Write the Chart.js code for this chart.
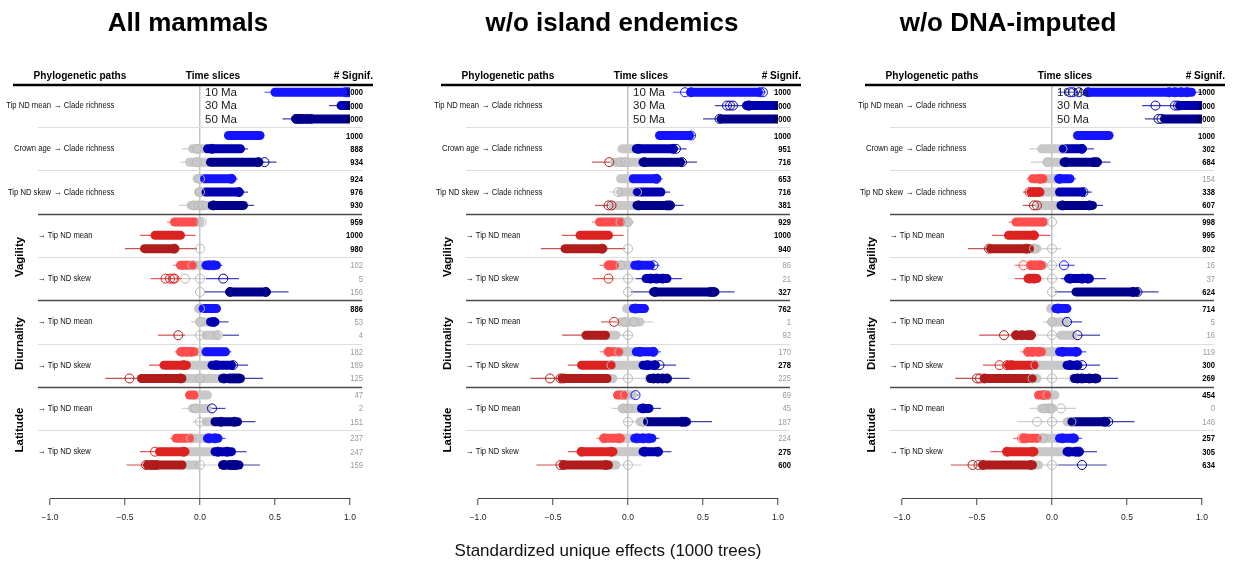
<!DOCTYPE html>
<html><head><meta charset="utf-8">
<script src="https://cdn.jsdelivr.net/npm/chart.js@4.4.1/dist/chart.umd.min.js"></script>
<style>
body{margin:0;width:1236px;height:565px;background:#fff;position:relative;overflow:hidden;font-family:"Liberation Sans",Arial,Helvetica,sans-serif}
.title{position:absolute;top:7px;line-height:30px;font-weight:bold;font-size:26px;transform:translateX(-50%);white-space:nowrap;color:#000}
canvas{position:absolute;top:0}
#xlab{position:absolute;top:541px;left:608px;line-height:20px;transform:translateX(-50%);font-size:17px;white-space:nowrap;color:#111}
</style></head><body>
<canvas id="c0" width="380" height="565" style="left:0px"></canvas>
<canvas id="c1" width="390" height="565" style="left:420px"></canvas>
<canvas id="c2" width="396" height="565" style="left:840px"></canvas>
<div id="xlab"></div>
<script>
// ---------------- data ----------------
const panelTitles = ['All mammals', 'w/o island endemics', 'w/o DNA-imputed'];
const xAxisTitle = 'Standardized unique effects (1000 trees)';
const headerLabels = ['Phylogenetic paths', 'Time slices', '# Signif.'];
const sliceLabels = ['10 Ma', '30 Ma', '50 Ma'];
const richnessPredictors = ['Tip ND mean', 'Crown age', 'Tip ND skew'];
const richnessTarget = '\u2192 Clade richness';
const traitSections = ['Vagility', 'Diurnality', 'Latitude'];
const traitTargets = ['\u2192 Tip ND mean', '\u2192 Tip ND skew'];
const xTicks = [-1, -0.5, 0, 0.5, 1];

// per row (27 rows = 9 paths x 3 time slices): whisker range, thick-bar segments,
// significance zone limits [neg limit, pos limit], outlying circles, # significant trees
const allWhisker = [[0.43,1.02],[0.86,1.0],[0.55,1.0],[0.17,0.43],[-0.12,0.32],[-0.13,0.51],[-0.03,0.25],[-0.02,0.32],[-0.14,0.36],
  [-0.22,0.01],[-0.4,-0.03],[-0.5,-0.02],[-0.18,0.15],[-0.33,0.26],[0.03,0.59],[-0.02,0.13],[-0.06,0.19],[-0.28,0.26],
  [-0.17,0.21],[-0.34,0.32],[-0.63,0.42],[-0.08,0.06],[-0.12,0.17],[-0.05,0.37],[-0.2,0.17],[-0.4,0.31],[-0.49,0.4]];
const allBox = [[0.5,1.0],[0.94,1.0],[0.64,1.0],[0.19,0.4],[-0.05,0.27],[-0.07,0.39],[-0.02,0.21],[-0.01,0.26],[-0.06,0.29],
  [-0.17,0.0],[-0.3,-0.13],[-0.37,-0.17],[-0.13,0.11],[],[0.2,0.44],[-0.01,0.11],[0.0,0.1],[0.04,0.11],
  [-0.13,0.17],[-0.24,0.21],[-0.39,0.27],[-0.07,0.05],[-0.05,0.05],[0.04,0.25],[-0.16,0.12],[-0.27,0.21],[-0.35,-0.03,0.15,0.26]];
const allZone = [[null,0],[null,0],[null,0],[null,0],[null,0.05],[null,0.07],[null,0.03],[null,0.04],[null,0.08],
  [-0.04,null],[0,null],[-0.02,null],[-0.05,0.04],[-0.12,0.04],[null,0.02],[null,0.02],[null,0.07],[-0.1,0.15],
  [-0.04,0.04],[-0.09,0.08],[-0.12,0.15],[-0.04,null],[null,0.07],[null,0.1],[-0.07,0.05],[-0.1,0.1],[-0.12,0.13]];
const allPoints = [[0.97,0.99],[],[0.64,0.66,0.68,0.71,0.74],[],[-0.02,0.08],[-0.02,0.39,0.43],[0.0,0.21],[0.0,0.26],[-0.04,-0.01,0.02,0.09],
  [0.01],[],[-0.17,0.0],[-0.05,0.06,0.09],[-0.23,-0.2,-0.18,-0.17,-0.1,0.0,0.155],[0.0,0.2,0.44],[0.0],[0.0,0.09],[-0.145,0.0,0.12],
  [-0.12,-0.09,-0.06],[-0.11,0.11,0.22],[-0.47,-0.13,0.0,0.16,0.2,0.22,0.24,0.26],[],[-0.03,0.08],[0.0,0.14,0.23],[-0.06,0.06,0.1],[-0.3,-0.11,0.12,0.18],[-0.36,-0.33,-0.31,-0.29,0.0,0.16,0.2,0.22,0.24]];
const allSignif = [1000,1000,1000,1000,888,934,924,976,930,959,1000,980,102,5,156,886,53,4,182,189,125,47,2,151,237,247,159];

const islWhisker = [[0.3,0.92],[0.58,1.0],[0.5,1.0],[0.2,0.45],[-0.06,0.39],[-0.24,0.46],[-0.06,0.23],[-0.12,0.28],[-0.22,0.37],
  [-0.24,0.04],[-0.44,-0.03],[-0.58,-0.02],[-0.19,0.21],[-0.235,0.36],[0.01,0.71],[-0.02,0.12],[-0.18,0.17],[-0.44,0.03],
  [-0.19,0.22],[-0.4,0.32],[-0.65,0.41],[-0.09,0.07],[-0.11,0.22],[-0.03,0.56],[-0.21,0.21],[-0.4,0.29],[-0.61,0.09]];
const islBox = [[0.42,0.87],[0.79,1.0],[0.62,1.0],[0.21,0.41],[-0.04,0.3],[-0.09,0.35],[-0.05,0.19],[-0.05,0.22],[-0.1,0.28],
  [-0.19,0.0],[-0.32,-0.13],[-0.42,-0.17],[-0.13,0.15],[0.12,0.26],[0.17,0.58],[-0.01,0.11],[-0.05,0.08],[-0.28,-0.08],
  [-0.13,0.17],[-0.31,0.18],[-0.44,-0.1,0.14,0.26],[-0.07,0.03],[-0.04,0.14],[0.08,0.39],[-0.16,0.16],[-0.31,0.2],[-0.43,-0.08]];
const islZone = [[null,0],[null,0],[null,0],[null,0],[null,0.055],[-0.11,0.1],[null,0.035],[null,0.06],[-0.1,0.06],
  [-0.05,null],[0,null],[-0.02,null],[-0.09,0.045],[-0.1,0.05],[null,0.02],[null,0.035],[-0.08,null],[-0.15,null],
  [-0.06,0.055],[-0.11,0.1],[-0.14,0.15],[-0.03,0.04],[null,0.09],[null,0.13],[-0.05,0.045],[-0.1,0.1],[-0.13,null]];
const islPoints = [[0.38,0.42,0.88,0.9],[0.66,0.68,0.7,0.8,0.81],[0.61],[0.42],[0.07,0.3,0.32],[-0.125,-0.05,-0.02,0.11,0.36],[0.19],[-0.065,0.06],[-0.13,-0.11,0.07,0.26,0.28],
  [-0.05,0.0],[],[-0.17,0.0],[-0.13,-0.11,-0.05,0.07,0.17],[-0.13,0.0,0.15,0.19,0.23],[0.0,0.18,0.55,0.57],[0.05],[-0.093,-0.02,0.04],[0.0],
  [-0.13,-0.06,0.08,0.17],[-0.11,0.13,0.18,0.21],[-0.52,-0.45,-0.43,0.0,0.17,0.2,0.23,0.26],[-0.02,0.05],[-0.03,0.0,0.1],[0.0,0.1,0.36,0.38],[-0.16,-0.06,0.06,0.1,0.14],[-0.31,-0.11,0.11,0.2],[-0.45,-0.43,-0.15,0.0]];
const islSignif = [1000,1000,1000,1000,951,716,653,716,381,929,1000,940,86,21,327,762,1,92,170,278,225,69,45,187,224,275,600];

const dnaWhisker = [[0.04,1.0],[0.6,1.0],[0.62,1.0],[0.16,0.41],[-0.15,0.28],[-0.14,0.39],[-0.17,0.16],[-0.195,0.265],[-0.195,0.34],
  [-0.29,-0.02],[-0.4,-0.01],[-0.56,0.06],[-0.25,0.15],[-0.25,0.36],[0.01,0.71],[-0.02,0.12],[-0.06,0.2],[-0.485,0.32],
  [-0.21,0.23],[-0.46,0.32],[-0.645,0.44],[-0.11,0.03],[-0.15,0.16],[-0.235,0.55],[-0.26,0.2],[-0.41,0.3],[-0.675,0.365]];
const dnaBox = [[0.24,0.93],[0.85,1.0],[0.75,1.0],[0.17,0.38],[-0.07,0.2],[-0.03,0.3],[-0.13,0.12],[-0.14,0.2],[-0.08,0.27],
  [-0.24,-0.05],[-0.29,-0.12],[-0.41,-0.1],[-0.14,-0.06],[-0.16,-0.1,0.11,0.25],[0.16,0.56],[-0.01,0.1],[0.0,0.09],[-0.24,-0.14,0.06,0.14],
  [-0.16,0.17],[-0.29,0.17],[-0.45,-0.1,0.14,0.3],[-0.09,0.02],[-0.07,0.0],[0.1,0.36],[-0.19,0.15],[-0.3,0.18],[-0.46,-0.09]];
const dnaZone = [[null,0],[null,0],[null,0],[null,0],[null,0.075],[null,0.08],[-0.06,0.045],[-0.08,0.05],[-0.09,0.06],
  [-0.06,null],[0,null],[-0.15,null],[-0.07,0.06],[-0.1,0.06],[null,0.02],[null,0.025],[null,0.09],[-0.12,0.15],
  [-0.07,0.05],[-0.12,0.1],[-0.13,0.15],[-0.035,null],[null,null],[null,0.13],[-0.1,0.05],[-0.12,0.1],[-0.13,0.04]];
const dnaPoints = [[0.12,0.14,0.18,0.24,0.78,0.82,0.86,0.9],[0.69,0.82,0.84],[0.71,0.73],[],[0.07,0.2],[-0.03,0.09,0.28,0.3],[-0.08,0.05],[-0.15,-0.12,-0.09,0.21],[-0.12,-0.1,0.07,0.25],
  [0.0],[-0.12],[-0.42,-0.17,-0.12,0.0],[-0.19,-0.14,-0.11,-0.08,0.0,0.08],[-0.15,-0.12,0.0,0.12,0.2,0.24],[0.0,0.54,0.57],[0.04],[0.0,0.1],[-0.32,-0.24,-0.2,-0.16,-0.14,0.0,0.17],
  [-0.16,-0.13,-0.09,0.07,0.16],[-0.35,-0.3,-0.27,-0.11,0.12,0.17,0.2],[-0.5,-0.48,-0.45,-0.13,0.0,0.17,0.2,0.25,0.29],[-0.05,-0.03],[-0.05,-0.02,0.0,0.06],[-0.1,0.0,0.13,0.35,0.375],[-0.2,-0.18,-0.06,0.07,0.14],[-0.3,-0.13,0.11,0.16,0.18],[-0.53,-0.49,-0.46,-0.14,0.0,0.2]];
const dnaSignif = [1000,1000,1000,1000,302,684,154,338,607,998,995,802,16,37,624,714,5,16,119,300,269,454,0,146,257,305,634];

// ---------------- styling ----------------
const FAM = '"Liberation Sans", Arial, Helvetica, sans-serif';
const RED = ['#ff4d4d', '#dc2121', '#b01c1c'];
const BLUE = ['#1414ff', '#0000b0', '#00008a'];
const GREY = '#c8c8c8';
const GROUP_STEP = 3.25;
function rowPos(i) { return Math.floor(i / 3) * GROUP_STEP + (i % 3); }
function rgba(hex, a) {
  const n = parseInt(hex.slice(1), 16);
  return 'rgba(' + ((n >> 16) & 255) + ',' + ((n >> 8) & 255) + ',' + (n & 255) + ',' + a + ')';
}
function split(a, b, nb, pb) {
  const out = [];
  if (a < nb) out.push([a, Math.min(b, nb), 0]);
  const ga = Math.max(a, nb), gb = Math.min(b, pb);
  if (gb > ga) out.push([ga, gb, 1]);
  if (b > pb) out.push([Math.max(a, pb), b, 2]);
  return out;
}
function seg(a, b, y, color, width, cap, order) {
  return { data: [{x: a, y: y}, {x: b, y: y}], showLine: true, borderColor: color, borderWidth: width,
    borderCapStyle: cap, pointRadius: 0, pointHoverRadius: 0, fill: false, tension: 0, order: order };
}
function buildDatasets(wh, box, zone, pts) {
  const ds = [];
  for (let i = 0; i < wh.length; i++) {
    const t = i % 3, y = rowPos(i);
    const nb = zone[i][0] === null ? -Infinity : zone[i][0];
    const pb = zone[i][1] === null ? Infinity : zone[i][1];
    const cols = [RED[t], GREY, BLUE[t]];
    split(wh[i][0], wh[i][1], nb, pb).forEach(p => ds.push(seg(p[0], p[1], y, rgba(cols[p[2]] === GREY ? '#bdbdbd' : cols[p[2]], 0.75), 1.2, 'butt', 5)));
    for (let j = 0; j + 1 < box[i].length; j += 2) {
      split(box[i][j], box[i][j + 1], nb, pb).forEach(p => ds.push(seg(p[0], p[1], y, cols[p[2]], 9, 'round', p[2] === 1 ? 4 : 3)));
    }
    if (pts[i].length) {
      const zc = x => x < nb ? cols[0] : (x > pb ? cols[2] : '#b8b8b8');
      ds.push({ data: pts[i].map(x => ({x: x, y: y})), showLine: false, pointRadius: 4.5, pointHoverRadius: 4.5,
        pointBorderWidth: 1, pointBorderColor: pts[i].map(zc), pointBackgroundColor: 'rgba(0,0,0,0)', order: 1 });
    }
  }
  return ds;
}
function txt(ctx, s, x, y, font, color, align, sx) {
  ctx.save(); ctx.translate(x, y); ctx.scale(sx || 1, 1);
  ctx.font = font; ctx.fillStyle = color; ctx.textAlign = align; ctx.textBaseline = 'middle';
  ctx.fillText(s, 0, 0); ctx.restore();
}
const decor = {
  id: 'decor',
  beforeDatasetsDraw(chart) {
    const ctx = chart.ctx, xs = chart.scales.x, ys = chart.scales.y, x0 = xs.getPixelForValue(0);
    ctx.save();
    for (let g = 0; g < 8; g++) {
      const yy = Math.round(ys.getPixelForValue(g * GROUP_STEP + 2.625)) + 0.5;
      const major = (g === 2 || g === 4 || g === 6);
      ctx.strokeStyle = major ? '#4a4a4a' : '#dddddd'; ctx.lineWidth = major ? 1.3 : 1;
      ctx.beginPath(); ctx.moveTo(x0 - 162, yy); ctx.lineTo(x0 + 162, yy); ctx.stroke();
    }
    ctx.restore();
  },
  afterDraw(chart, args, opts) {
    const ctx = chart.ctx, xs = chart.scales.x, ys = chart.scales.y, x0 = xs.getPixelForValue(0);
    const sig = opts.signif;
    // header
    txt(ctx, headerLabels[0], x0 - 120, 76, 'bold 11px ' + FAM, '#000', 'center', 0.92);
    txt(ctx, headerLabels[1], x0 + 13, 76, 'bold 11px ' + FAM, '#000', 'center', 0.92);
    txt(ctx, headerLabels[2], x0 + 173, 76, 'bold 11px ' + FAM, '#000', 'right', 0.92);
    ctx.save(); ctx.strokeStyle = '#000'; ctx.lineWidth = 2.5;
    ctx.beginPath(); ctx.moveTo(x0 - 187, 85); ctx.lineTo(x0 + 173, 85); ctx.stroke(); ctx.restore();
    // time slice legend
    sliceLabels.forEach((s, t) => txt(ctx, s, x0 + 5, ys.getPixelForValue(rowPos(t)) + 0.5, '11.5px ' + FAM, '#1a1a1a', 'left', 1));
    // path labels
    const small = '9px ' + FAM;
    richnessPredictors.forEach((p, g) => {
      const yy = ys.getPixelForValue(rowPos(g * 3 + 1));
      txt(ctx, p, x0 - 149, yy, small, '#111', 'right', 0.85);
      txt(ctx, richnessTarget, x0 - 146, yy, small, '#111', 'left', 0.85);
    });
    traitSections.forEach((s, k) => {
      const gA = 3 + k * 2;
      for (let m = 0; m < 2; m++) {
        const yy = ys.getPixelForValue(rowPos((gA + m) * 3 + 1));
        txt(ctx, traitTargets[m], x0 - 162, yy, small, '#111', 'left', 0.85);
      }
      const yc = ys.getPixelForValue((rowPos(gA * 3) + rowPos((gA + 1) * 3 + 2)) / 2);
      ctx.save(); ctx.translate(x0 - 180, yc); ctx.rotate(-Math.PI / 2);
      ctx.font = 'bold 11.5px ' + FAM; ctx.fillStyle = '#000'; ctx.textAlign = 'center'; ctx.textBaseline = 'middle';
      ctx.fillText(s, 0, 0); ctx.restore();
    });
    // significance counts
    sig.forEach((v, i) => {
      const strong = v >= 250;
      txt(ctx, String(v), x0 + 163, ys.getPixelForValue(rowPos(i)) + 0.5,
        (strong ? 'bold ' : '') + '9px ' + FAM, strong ? '#000' : '#9a9a9a', 'right', 0.85);
    });
  }
};
const panels = [
  {id: 'c0', wh: allWhisker, box: allBox, zone: allZone, pts: allPoints, sig: allSignif, padL: 50, padR: 30},
  {id: 'c1', wh: islWhisker, box: islBox, zone: islZone, pts: islPoints, sig: islSignif, padL: 58, padR: 32},
  {id: 'c2', wh: dnaWhisker, box: dnaBox, zone: dnaZone, pts: dnaPoints, sig: dnaSignif, padL: 62, padR: 34}
];
const titleCenters = [188, 612, 1008];
panelTitles.forEach((t, k) => {
  const d = document.createElement('div'); d.className = 'title'; d.style.left = titleCenters[k] + 'px'; d.textContent = t;
  document.body.appendChild(d);
});
document.getElementById('xlab').textContent = xAxisTitle;

panels.forEach(p => {
  new Chart(document.getElementById(p.id), {
    type: 'scatter',
    data: { datasets: buildDatasets(p.wh, p.box, p.zone, p.pts) },
    plugins: [decor],
    options: {
      responsive: false, animation: false, events: [], devicePixelRatio: 1,
      layout: { padding: { left: p.padL, right: p.padR, top: 86, bottom: 0 } },
      plugins: { legend: { display: false }, tooltip: { enabled: false }, decor: { signif: p.sig } },
      scales: {
        x: {
          type: 'linear', min: -1, max: 1, z: 1,
          afterBuildTicks: s => { s.ticks = xTicks.map(v => ({value: v})); },
          afterFit: s => { s.height = 67; },
          ticks: { callback: v => (v < 0 ? '\u2212' : '') + Math.abs(v).toFixed(1), font: { size: 8.5, family: FAM },
            color: '#222', padding: 8, maxRotation: 0, autoSkip: false },
          grid: { color: c => (c.tick && c.tick.value === 0) ? '#c4c4c4' : 'rgba(0,0,0,0)', lineWidth: 1.5,
            tickColor: '#444', tickWidth: 1, tickLength: 7, drawOnChartArea: true },
          border: { display: true, color: '#444', width: 1 }
        },
        y: { type: 'linear', reverse: true, min: -0.47, max: 30.48, display: false }
      }
    }
  });
});
</script>
</body></html>
